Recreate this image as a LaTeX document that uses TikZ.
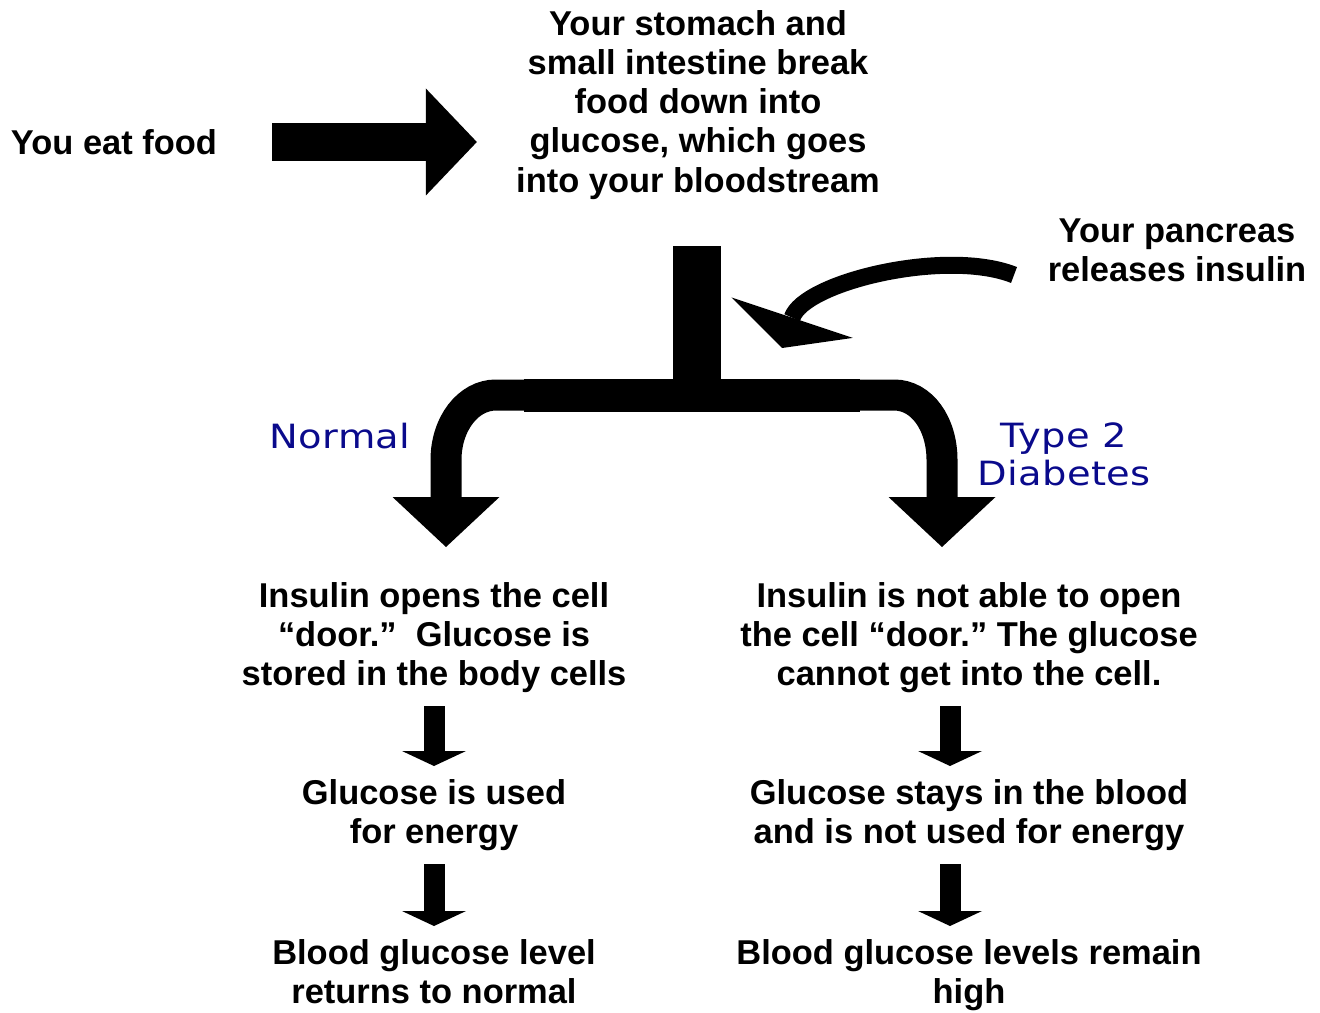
\documentclass[tikz,border=0pt]{standalone}
\usepackage{fontspec}
\setmainfont{Liberation Sans}
\newfontfamily\labelfont[FakeStretch=1.15,LetterSpace=1]{DejaVu Sans}
\usetikzlibrary{arrows.meta}
\definecolor{labelblue}{RGB}{10,10,140}
\frenchspacing

\begin{document}
\begin{tikzpicture}[x=0.2mm, y=-0.2mm,
    txt/.style={font=\bfseries\fontsize{19.6}{22.3}\selectfont, align=center, inner sep=0pt},
    lbl/.style={font=\labelfont\fontsize{19}{21.6}\selectfont, text=labelblue, align=center, inner sep=0pt},
    bigarrow/.style={line width=7.6mm, -{Triangle[width=21.4mm, length=10.2mm, line width=0pt]}},
    arm/.style={line width=6.2mm, -{Triangle[width=21.4mm, length=10mm, line width=0pt]}},
    smallarrow/.style={line width=4.2mm, -{Triangle[width=12.8mm, length=3mm, line width=0pt]}, shorten <=2.6mm, shorten >=2.6mm}]

    % 固定画布大小
    \useasboundingbox (0,0) rectangle (1320,1012);

    % 上方文字
    \node[txt] (food) at (114,142) {You eat food};
    \node[txt, anchor=north] (stomach) at (698,10) {Your stomach and\\small intestine break\\food down into\\glucose, which goes\\into your bloodstream};
    \node[txt, anchor=north] (pancreas) at (1177,218) {Your pancreas\\releases insulin};

    % 两条分支的标签
    \node[lbl] (normal) at (340,436) {Normal};
    \node[lbl, anchor=north] (type2) at (1064,422) {Type 2\\Diabetes};

    % 左边：正常
    \node[txt, anchor=north] (nbox1) at (434,582) {Insulin opens the cell\\“door.”\ \ Glucose is\\stored in the body cells};
    \node[txt, anchor=north] (nbox2) at (434,779) {Glucose is used\\for energy};
    \node[txt, anchor=north] (nbox3) at (434,939) {Blood glucose level\\returns to normal};

    % 右边：2型糖尿病
    \node[txt, anchor=north] (dbox1) at (969,582) {Insulin is not able to open\\the cell “door.” The glucose\\cannot get into the cell.};
    \node[txt, anchor=north] (dbox2) at (969,779) {Glucose stays in the blood\\and is not used for energy};
    \node[txt, anchor=north] (dbox3) at (969,939) {Blood glucose levels remain\\high};

    % 吃东西的大箭头
    \draw[bigarrow, shorten <=11mm, shorten >=7.8mm] (food.east) -- (food.east -| stomach.west);

    % 主干和分叉
    \coordinate (split) at (697,395);
    \coordinate (splitL) at (524,395);
    \coordinate (splitR) at (860,395);
    \coordinate (normtip) at (446,547);
    \coordinate (diabtip) at (942,547);
    \draw[line width=9.6mm, shorten <=9.3mm] (stomach.south -| split) -- (split);
    \draw[line width=6.6mm] (splitL) -- (splitR);
    \draw[arm] (splitL) -- ++(-28,0) .. controls +(-28,0) and +(0,-36) .. ++(-50,65) -- (normtip);
    \draw[arm] (splitR) -- ++(34,0) .. controls +(28,0) and +(0,-36) .. ++(48,65) -- (diabtip);

    % 胰岛素的弯箭头
    \coordinate (insulintail) at (1014,275);
    \coordinate (insulintip) at (782,348);
    \draw[line width=3.4mm, -{Triangle[width=25.6mm, length=6.4mm, line width=0pt]}]
        (insulintail) .. controls (946,248) and (804,282) .. (insulintip);

    % 小箭头
    \draw[smallarrow] (nbox1.south) -- (nbox2.north);
    \draw[smallarrow] (nbox2.south) -- (nbox3.north);
    \draw[smallarrow] ([xshift=-3.8mm]dbox1.south) -- ([xshift=-3.8mm]dbox2.north);
    \draw[smallarrow] ([xshift=-3.8mm]dbox2.south) -- ([xshift=-3.8mm]dbox3.north);
\end{tikzpicture}
\end{document}
